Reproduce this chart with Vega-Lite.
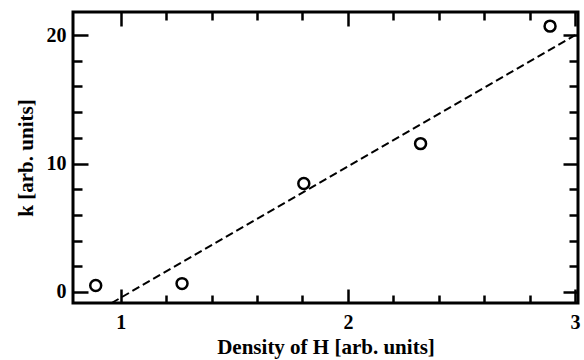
{
  "$schema": "https://vega.github.io/schema/vega-lite/v6.json",
  "width": 505,
  "height": 291,
  "autosize": {"type": "none"},
  "padding": {"left": 73, "top": 12, "right": 6, "bottom": 57},
  "background": "white",
  "config": {
    "view": {"stroke": "black", "strokeWidth": 3},
    "axis": {
      "domain": false,
      "grid": false,
      "tickColor": "black",
      "tickWidth": 2.5,
      "labelFont": "Liberation Serif",
      "labelFontWeight": "bold",
      "labelFontSize": 20,
      "labelColor": "black",
      "titleFont": "Liberation Serif",
      "titleFontWeight": "bold",
      "titleFontSize": 21,
      "titleColor": "black"
    }
  },
  "datasets": {
    "pts": [
      {"density": 0.89, "k": 0.5},
      {"density": 1.27, "k": 0.65},
      {"density": 1.806, "k": 8.45},
      {"density": 2.32, "k": 11.55},
      {"density": 2.89, "k": 20.7}
    ],
    "fit": [
      {"density": 0.96, "k": -0.86},
      {"density": 3.0, "k": 20.0}
    ]
  },
  "layer": [
    {
      "data": {"name": "pts"},
      "mark": {"type": "point", "shape": "circle", "filled": false, "color": "black", "strokeWidth": 2.5, "size": 120, "opacity": 1},
      "encoding": {
        "x": {"field": "density", "type": "quantitative", "scale": {"domain": [0.79, 3.013], "nice": false, "zero": false},
          "axis": {"orient": "bottom", "values": [1, 2, 3], "tickSize": -14, "labelPadding": 23, "title": "Density of H [arb. units]", "titlePadding": 4, "labelFlush": false}},
        "y": {"field": "k", "type": "quantitative", "scale": {"domain": [-0.86, 21.8], "nice": false, "zero": false},
          "axis": {"orient": "left", "values": [0, 10, 20], "tickSize": -15, "labelPadding": 22, "title": "k [arb. units]", "titlePadding": 10, "labelFlush": false}}
      }
    },
    {
      "data": {"name": "fit"},
      "mark": {"type": "line", "color": "black", "strokeWidth": 2, "strokeDash": [8, 4]},
      "encoding": {
        "x": {"field": "density", "type": "quantitative", "axis": {"orient": "top", "values": [1, 2, 3], "tickSize": -14, "labels": false, "title": null}},
        "y": {"field": "k", "type": "quantitative", "axis": {"orient": "right", "values": [0, 10, 20], "tickSize": -15, "labels": false, "title": null}}
      }
    },
    {
      "data": {"name": "fit"},
      "mark": {"type": "line", "opacity": 0},
      "encoding": {
        "x": {"field": "density", "type": "quantitative", "axis": {"orient": "bottom", "values": [1.2, 1.4, 1.6, 1.8, 2.2, 2.4, 2.6, 2.8], "tickSize": -8, "labels": false, "title": null}},
        "y": {"field": "k", "type": "quantitative", "axis": {"orient": "left", "values": [2, 4, 6, 8, 12, 14, 16, 18], "tickSize": -9, "labels": false, "title": null}}
      }
    },
    {
      "data": {"name": "fit"},
      "mark": {"type": "line", "opacity": 0},
      "encoding": {
        "x": {"field": "density", "type": "quantitative", "axis": {"orient": "top", "values": [1.2, 1.4, 1.6, 1.8, 2.2, 2.4, 2.6, 2.8], "tickSize": -8, "labels": false, "title": null}},
        "y": {"field": "k", "type": "quantitative", "axis": {"orient": "right", "values": [2, 4, 6, 8, 12, 14, 16, 18], "tickSize": -9, "labels": false, "title": null}}
      }
    }
  ],
  "resolve": {"axis": {"x": "independent", "y": "independent"}}
}
